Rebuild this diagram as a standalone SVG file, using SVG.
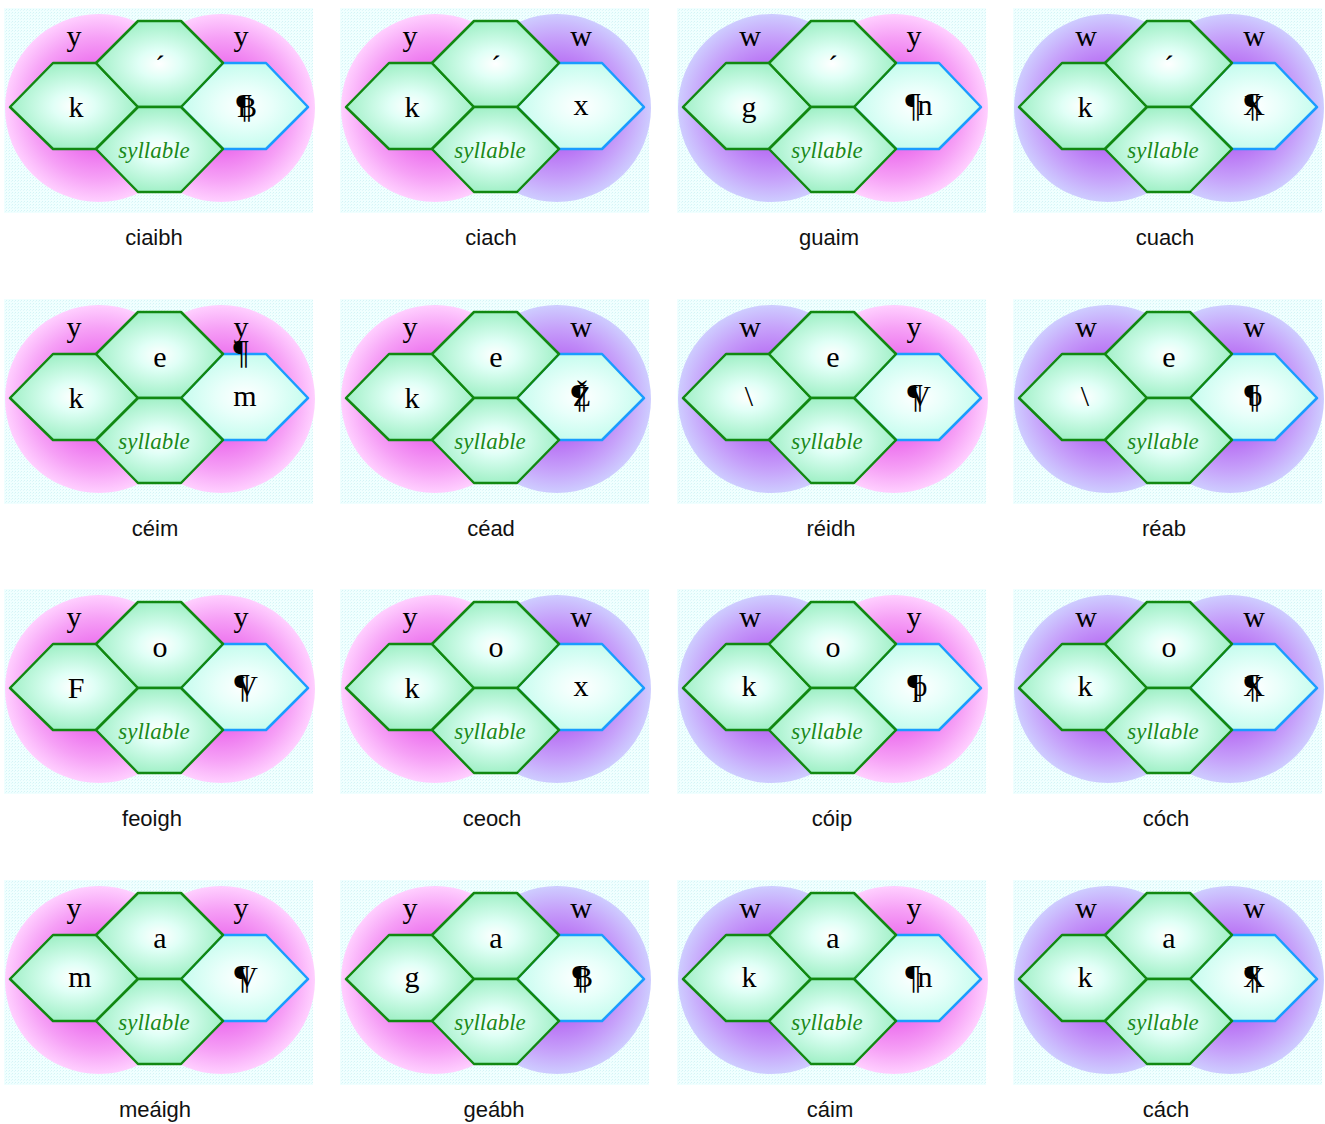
<svg xmlns="http://www.w3.org/2000/svg" xmlns:xlink="http://www.w3.org/1999/xlink" width="1325" height="1124" viewBox="0 0 1325 1124">
<style>
.t{font-family:"Liberation Serif","Times New Roman",serif;font-size:30px;fill:#000;text-anchor:middle}
.p{font-family:"Liberation Serif","Times New Roman",serif;font-size:34px;fill:#000;text-anchor:middle}
.s{font-family:"Liberation Serif","Times New Roman",serif;font-style:italic;font-size:23px;fill:#1a8a1a;text-anchor:middle}
.lab{font-family:"Liberation Sans",Arial,sans-serif;font-size:22px;fill:#111;text-anchor:middle}
.hg{fill:url(#hexG);stroke:#118811;stroke-width:2.5;stroke-linejoin:round}
.hb{fill:url(#hexB);stroke:#1a9cff;stroke-width:2.5;stroke-linejoin:round}
.bg{fill:url(#dots)}
.py{fill:url(#pink)}
.pw{fill:url(#purp)}
</style>
<defs>
<pattern id="dots" width="3" height="3" patternUnits="userSpaceOnUse">
<rect width="3" height="3" fill="#f0ffff"/>
<rect width="1" height="1" fill="#d4f4f6"/>
<rect x="2" y="1" width="1" height="1" fill="#e0f8fa"/>
</pattern>
<radialGradient id="pink" cx="0.5" cy="0.5" r="0.5">
<stop offset="0" stop-color="#dc40e4"/>
<stop offset="0.45" stop-color="#ec70ee"/>
<stop offset="0.75" stop-color="#f6a0f6"/>
<stop offset="1" stop-color="#ffd0ff"/>
</radialGradient>
<radialGradient id="purp" cx="0.5" cy="0.5" r="0.5">
<stop offset="0" stop-color="#a448ee"/>
<stop offset="0.45" stop-color="#b870f4"/>
<stop offset="0.75" stop-color="#c6a0fa"/>
<stop offset="1" stop-color="#cecdff"/>
</radialGradient>
<radialGradient id="hexG" cx="0.5" cy="0.5" r="0.55">
<stop offset="0" stop-color="#ffffff"/>
<stop offset="0.3" stop-color="#e0fff6"/>
<stop offset="1" stop-color="#98eec0"/>
</radialGradient>
<radialGradient id="hexB" cx="0.5" cy="0.5" r="0.55">
<stop offset="0" stop-color="#ffffff"/>
<stop offset="0.4" stop-color="#e8fffa"/>
<stop offset="1" stop-color="#c0fcec"/>
</radialGradient>
<rect id="bgr" class="bg" x="4" y="8" width="309" height="205"/>
<circle id="cl" cx="99" cy="108" r="94"/>
<circle id="cr" cx="221" cy="108" r="94"/>
<polygon id="hR" class="hb" points="181,107 223,63 266,63 308,107 266,149 223,149"/>
<polygon id="hL" class="hg" points="10,107 53,63 96,63 138,107 96,149 53,149"/>
<polygon id="hT" class="hg" points="96,63 138,21 181,21 223,63 181,107 138,107"/>
<polygon id="hB" class="hg" points="96,149 138,107 181,107 223,149 181,192 138,192"/>
<g id="frame">
<use href="#hR"/><use href="#hL"/><use href="#hT"/><use href="#hB"/>
<text class="s" x="154" y="158">syllable</text>
</g>
</defs>

<!-- Row 1 -->
<g id="cell-ciaibh" transform="translate(0,0)">
<use href="#bgr"/><use href="#cl" class="py"/><use href="#cr" class="py"/><use href="#frame"/>
<text class="t" x="74" y="46">y</text><text class="t" x="241" y="46">y</text>
<text class="t" x="160" y="76">´</text><text class="t" x="76" y="117">k</text>
<text class="p" x="244" y="117">¶</text><text class="t" x="247" y="117">B</text>
<text class="lab" x="154" y="245">ciaibh</text>
</g>
<g id="cell-ciach" transform="translate(336,0)">
<use href="#bgr"/><use href="#cl" class="py"/><use href="#cr" class="pw"/><use href="#frame"/>
<text class="t" x="74" y="46">y</text><text class="t" x="245" y="46">w</text>
<text class="t" x="160" y="76">´</text><text class="t" x="76" y="117">k</text>
<text class="t" x="245" y="115">x</text>
<text class="lab" x="155" y="245">ciach</text>
</g>
<g id="cell-guaim" transform="translate(673,0)">
<use href="#bgr"/><use href="#cl" class="pw"/><use href="#cr" class="py"/><use href="#frame"/>
<text class="t" x="77" y="46">w</text><text class="t" x="241" y="46">y</text>
<text class="t" x="160" y="76">´</text><text class="t" x="76" y="117">g</text>
<text class="p" x="240" y="116">¶</text><text class="t" x="252" y="115">n</text>
<text class="lab" x="156" y="245">guaim</text>
</g>
<g id="cell-cuach" transform="translate(1009,0)">
<use href="#bgr"/><use href="#cl" class="pw"/><use href="#cr" class="pw"/><use href="#frame"/>
<text class="t" x="77" y="46">w</text><text class="t" x="245" y="46">w</text>
<text class="t" x="160" y="76">´</text><text class="t" x="76" y="117">k</text>
<text class="p" x="243" y="116">¶</text><text class="t" x="245" y="115">X</text>
<text class="lab" x="156" y="245">cuach</text>
</g>

<!-- Row 2 -->
<g id="cell-ceim" transform="translate(0,291)">
<use href="#bgr"/><use href="#cl" class="py"/><use href="#cr" class="py"/><use href="#frame"/>
<text class="t" x="74" y="46">y</text><text class="t" x="241" y="46">y</text>
<text class="p" x="241" y="72">¶</text>
<text class="t" x="160" y="76">e</text><text class="t" x="76" y="117">k</text>
<text class="t" x="245" y="115">m</text>
<text class="lab" x="155" y="245">céim</text>
</g>
<g id="cell-cead" transform="translate(336,291)">
<use href="#bgr"/><use href="#cl" class="py"/><use href="#cr" class="pw"/><use href="#frame"/>
<text class="t" x="74" y="46">y</text><text class="t" x="245" y="46">w</text>
<text class="t" x="160" y="76">e</text><text class="t" x="76" y="117">k</text>
<text class="p" x="243" y="116">¶</text><text class="t" x="246" y="115">Ž</text>
<text class="lab" x="155" y="245">céad</text>
</g>
<g id="cell-reidh" transform="translate(673,291)">
<use href="#bgr"/><use href="#cl" class="pw"/><use href="#cr" class="py"/><use href="#frame"/>
<text class="t" x="77" y="46">w</text><text class="t" x="241" y="46">y</text>
<text class="t" x="160" y="76">e</text><text class="t" x="76" y="115">\</text>
<text class="p" x="242" y="116">¶</text><text class="t" x="247" y="115">V</text>
<text class="lab" x="158" y="245">réidh</text>
</g>
<g id="cell-reab" transform="translate(1009,291)">
<use href="#bgr"/><use href="#cl" class="pw"/><use href="#cr" class="pw"/><use href="#frame"/>
<text class="t" x="77" y="46">w</text><text class="t" x="245" y="46">w</text>
<text class="t" x="160" y="76">e</text><text class="t" x="76" y="115">\</text>
<text class="p" x="243" y="116">¶</text><text class="t" x="246" y="115">b</text>
<text class="lab" x="155" y="245">réab</text>
</g>

<!-- Row 3 -->
<g id="cell-feoigh" transform="translate(0,581)">
<use href="#bgr"/><use href="#cl" class="py"/><use href="#cr" class="py"/><use href="#frame"/>
<text class="t" x="74" y="46">y</text><text class="t" x="241" y="46">y</text>
<text class="t" x="160" y="76">o</text><text class="t" x="76" y="117">F</text>
<text class="p" x="242" y="116">¶</text><text class="t" x="247" y="115">V</text>
<text class="lab" x="152" y="245">feoigh</text>
</g>
<g id="cell-ceoch" transform="translate(336,581)">
<use href="#bgr"/><use href="#cl" class="py"/><use href="#cr" class="pw"/><use href="#frame"/>
<text class="t" x="74" y="46">y</text><text class="t" x="245" y="46">w</text>
<text class="t" x="160" y="76">o</text><text class="t" x="76" y="117">k</text>
<text class="t" x="245" y="115">x</text>
<text class="lab" x="156" y="245">ceoch</text>
</g>
<g id="cell-coip" transform="translate(673,581)">
<use href="#bgr"/><use href="#cl" class="pw"/><use href="#cr" class="py"/><use href="#frame"/>
<text class="t" x="77" y="46">w</text><text class="t" x="241" y="46">y</text>
<text class="t" x="160" y="76">o</text><text class="t" x="76" y="115">k</text>
<text class="p" x="242" y="116">¶</text><text class="t" x="247" y="115">þ</text>
<text class="lab" x="159" y="245">cóip</text>
</g>
<g id="cell-coch" transform="translate(1009,581)">
<use href="#bgr"/><use href="#cl" class="pw"/><use href="#cr" class="pw"/><use href="#frame"/>
<text class="t" x="77" y="46">w</text><text class="t" x="245" y="46">w</text>
<text class="t" x="160" y="76">o</text><text class="t" x="76" y="115">k</text>
<text class="p" x="243" y="116">¶</text><text class="t" x="245" y="115">X</text>
<text class="lab" x="157" y="245">cóch</text>
</g>

<!-- Row 4 -->
<g id="cell-meaigh" transform="translate(0,872)">
<use href="#bgr"/><use href="#cl" class="py"/><use href="#cr" class="py"/><use href="#frame"/>
<text class="t" x="74" y="46">y</text><text class="t" x="241" y="46">y</text>
<text class="t" x="160" y="76">a</text><text class="t" x="80" y="115">m</text>
<text class="p" x="242" y="116">¶</text><text class="t" x="247" y="115">V</text>
<text class="lab" x="155" y="245">meáigh</text>
</g>
<g id="cell-geabh" transform="translate(336,872)">
<use href="#bgr"/><use href="#cl" class="py"/><use href="#cr" class="pw"/><use href="#frame"/>
<text class="t" x="74" y="46">y</text><text class="t" x="245" y="46">w</text>
<text class="t" x="160" y="76">a</text><text class="t" x="76" y="115">g</text>
<text class="p" x="244" y="116">¶</text><text class="t" x="247" y="115">B</text>
<text class="lab" x="158" y="245">geábh</text>
</g>
<g id="cell-caim" transform="translate(673,872)">
<use href="#bgr"/><use href="#cl" class="pw"/><use href="#cr" class="py"/><use href="#frame"/>
<text class="t" x="77" y="46">w</text><text class="t" x="241" y="46">y</text>
<text class="t" x="160" y="76">a</text><text class="t" x="76" y="115">k</text>
<text class="p" x="240" y="116">¶</text><text class="t" x="252" y="115">n</text>
<text class="lab" x="157" y="245">cáim</text>
</g>
<g id="cell-cach" transform="translate(1009,872)">
<use href="#bgr"/><use href="#cl" class="pw"/><use href="#cr" class="pw"/><use href="#frame"/>
<text class="t" x="77" y="46">w</text><text class="t" x="245" y="46">w</text>
<text class="t" x="160" y="76">a</text><text class="t" x="76" y="115">k</text>
<text class="p" x="243" y="116">¶</text><text class="t" x="245" y="115">X</text>
<text class="lab" x="157" y="245">cách</text>
</g>
</svg>
